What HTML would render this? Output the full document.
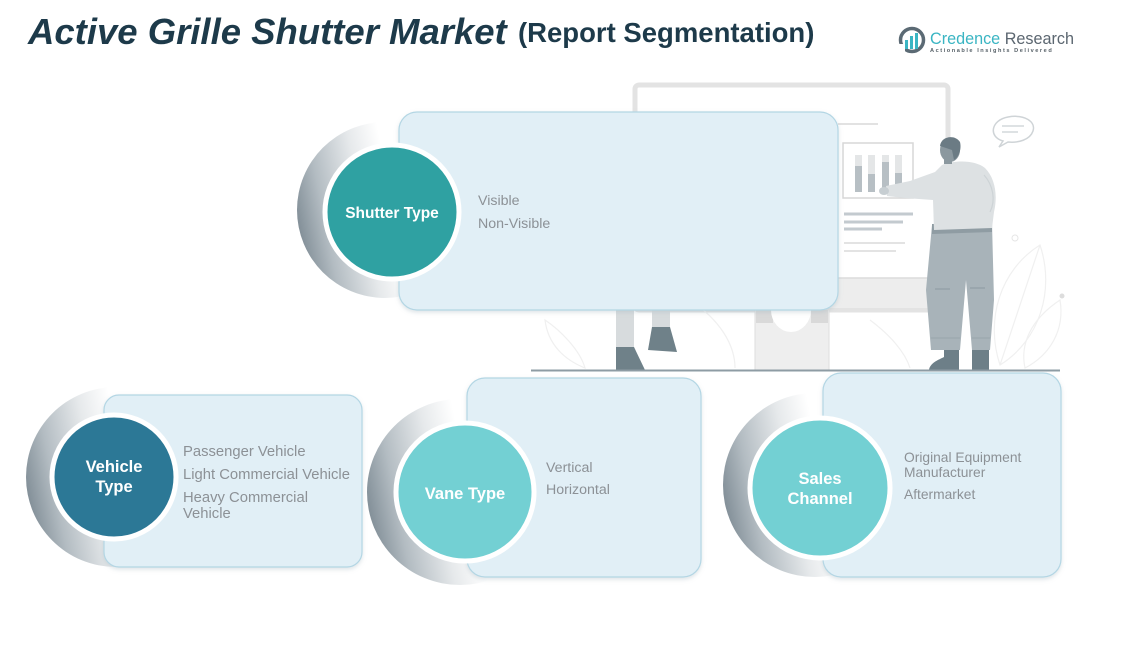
<!DOCTYPE html>
<html>
<head>
<meta charset="utf-8">
<style>
  html,body{margin:0;padding:0;background:#ffffff;}
  body{width:1137px;height:671px;overflow:hidden;}
  svg{display:block;}
  text{font-family:"Liberation Sans", Arial, sans-serif;}
</style>
</head>
<body>
<svg width="1137" height="671" viewBox="0 0 1137 671" xmlns="http://www.w3.org/2000/svg">
  <defs>
    <linearGradient id="cres" x1="0" y1="0.6" x2="1" y2="0.4">
      <stop offset="0" stop-color="#808d96"/>
      <stop offset="0.16" stop-color="#b3bcc2"/>
      <stop offset="0.38" stop-color="#e6e9eb"/>
      <stop offset="0.55" stop-color="#ffffff"/>
      <stop offset="1" stop-color="#ffffff"/>
    </linearGradient>
    <filter id="sh" x="-10%" y="-10%" width="120%" height="130%">
      <feDropShadow dx="0" dy="2" stdDeviation="2" flood-color="#9fb3bd" flood-opacity="0.35"/>
    </filter>
  </defs>

  <!-- Title -->
  <text x="28" y="44" font-size="36.5" font-weight="bold" font-style="italic" fill="#1d3a4a">Active Grille Shutter Market</text>
  <text x="518" y="42" font-size="27.5" font-weight="bold" fill="#1d3a4a">(Report Segmentation)</text>

  <!-- Logo -->
  <g>
    <circle cx="912" cy="40" r="11.5" fill="none" stroke="#5b6a74" stroke-width="3.5"/>
    <rect x="899" y="44" width="6" height="10" fill="#ffffff"/>
    <rect x="905" y="40" width="3" height="9" fill="#3ab5c3"/>
    <rect x="910" y="36" width="3" height="13" fill="#3ab5c3"/>
    <rect x="915" y="33" width="3" height="16" fill="#3ab5c3"/>
    <text x="930" y="44" font-size="16.2" fill="#3ab5c3">Credence <tspan fill="#5b6670">Research</tspan></text>
    <text x="930" y="52" font-size="5.6" fill="#555f66" letter-spacing="1.55" font-weight="bold">Actionable Insights Delivered</text>
  </g>

  <!-- Illustration -->
  <g>
    <!-- monitor -->
    <rect x="635" y="85" width="313" height="225" rx="4" fill="#ffffff" stroke="#e3e3e3" stroke-width="5"/>
    <rect x="637.5" y="278" width="308" height="30" fill="#ededed"/>
    <line x1="637" y1="278" x2="946" y2="278" stroke="#dcdcdc" stroke-width="1.5"/>
    <!-- stand -->
    <rect x="755" y="310" width="74" height="60" fill="#eeeeee"/>
    <rect x="756" y="310" width="17" height="13" fill="#d9d9d9"/>
    <rect x="811" y="310" width="17" height="13" fill="#d9d9d9"/>
    <path d="M771 310 A20 22 0 0 0 811 310 Z" fill="#ffffff"/>
    <line x1="755" y1="310" x2="755" y2="370" stroke="#dddddd" stroke-width="1"/>
    <line x1="829" y1="310" x2="829" y2="370" stroke="#dddddd" stroke-width="1"/>
    <!-- screen contents -->
    <line x1="838" y1="124" x2="878" y2="124" stroke="#e2e2e2" stroke-width="2"/>
    <rect x="843" y="143" width="70" height="55" fill="#ffffff" stroke="#d7d7d7" stroke-width="1.5"/>
    <rect x="855" y="155" width="7" height="37" fill="#e4e6e7"/>
    <rect x="855" y="166" width="7" height="26" fill="#b7bfc4"/>
    <rect x="868" y="155" width="7" height="37" fill="#e4e6e7"/>
    <rect x="868" y="174" width="7" height="18" fill="#b7bfc4"/>
    <rect x="882" y="155" width="7" height="37" fill="#e4e6e7"/>
    <rect x="882" y="162" width="7" height="30" fill="#b7bfc4"/>
    <rect x="895" y="155" width="7" height="37" fill="#e4e6e7"/>
    <rect x="895" y="173" width="7" height="19" fill="#b7bfc4"/>
    <line x1="844" y1="214" x2="913" y2="214" stroke="#c3cacf" stroke-width="3"/>
    <line x1="844" y1="222" x2="903" y2="222" stroke="#c3cacf" stroke-width="3"/>
    <line x1="844" y1="229" x2="882" y2="229" stroke="#c3cacf" stroke-width="3"/>
    <line x1="844" y1="243" x2="905" y2="243" stroke="#e3e3e3" stroke-width="2"/>
    <line x1="844" y1="251" x2="896" y2="251" stroke="#e3e3e3" stroke-width="2"/>

    <!-- faint leaves -->
    <g fill="none" stroke="#f0f0f0" stroke-width="1.2">
      <path d="M1040 245 C1000 270 985 320 1000 365 C1040 340 1055 290 1040 245 Z"/>
      <path d="M1040 245 L1000 365"/>
      <path d="M1060 300 C1030 320 1020 345 1025 368 C1050 355 1065 330 1060 300 Z"/>
      <path d="M545 320 C560 330 580 350 585 368 C565 360 548 345 545 320 Z"/>
      <path d="M690 300 C720 320 735 345 735 368"/>
      <path d="M870 320 C890 335 905 352 910 368"/>
    </g>
    <circle cx="1062" cy="296" r="2.5" fill="#dddddd"/>
    <circle cx="1015" cy="238" r="3" fill="none" stroke="#e6e6e6"/>

    <!-- speech bubble -->
    <path d="M1003 141 C988 137 991 120 1008 117 C1025 114 1036 122 1033 131 C1030 140 1018 143 1008 142 L999 147 Z" fill="#ffffff" stroke="#cfd4d7" stroke-width="1.5"/>
    <line x1="1002" y1="126" x2="1024" y2="126" stroke="#d3d8db" stroke-width="1.5"/>
    <line x1="1002" y1="132" x2="1018" y2="132" stroke="#d3d8db" stroke-width="1.5"/>

    <!-- standing person -->
    <path d="M932 225 L992 223 L994 300 L990 350 L972 350 L966 280 L960 350 L931 350 L926 290 Z" fill="#a8b3b9"/>
    <path d="M932 224 L992 222 L992 232 L932 234 Z" fill="#8f9ca3"/>
    <line x1="935" y1="289" x2="950" y2="289" stroke="#8d9aa1" stroke-width="1"/>
    <line x1="970" y1="288" x2="985" y2="288" stroke="#8d9aa1" stroke-width="1"/>
    <line x1="931" y1="338" x2="960" y2="338" stroke="#98a4aa" stroke-width="1"/>
    <line x1="972" y1="338" x2="990" y2="338" stroke="#98a4aa" stroke-width="1"/>
    <path d="M944 350 L959 350 L959 370 L929 370 C930 363 938 360 944 357 Z" fill="#6d7f88"/>
    <rect x="972" y="350" width="17" height="20" fill="#6d7f88"/>
    <path d="M942 165 C955 160 975 160 985 168 C995 178 998 195 994 212 L992 228 L934 230 L933 200 L905 198 L887 196 L886 186 L910 181 L935 172 Z" fill="#dde1e3"/>
    <path d="M984 175 C993 185 996 200 990 212" fill="none" stroke="#cdd3d6" stroke-width="1.2"/>
    <rect x="944" y="155" width="8" height="9" fill="#8b989f"/>
    <ellipse cx="950" cy="150" rx="10" ry="12" fill="#8b989f"/>
    <path d="M940 146 C941 136 955 134 960 142 C962 150 958 158 954 160 L952 150 Z" fill="#6b7b84"/>
    <ellipse cx="884" cy="191" rx="5" ry="4" fill="#c7ced2"/>

    <!-- left person legs -->
    <rect x="616" y="308" width="18" height="40" fill="#d7dbdd"/>
    <path d="M616 347 L634 347 L645 370 L616 370 Z" fill="#6f8189"/>
    <rect x="652" y="308" width="18" height="20" fill="#d7dbdd"/>
    <path d="M652 327 L670 327 L677 352 L648 350 Z" fill="#6f8189"/>

    <!-- floor -->
    <line x1="531" y1="370.5" x2="1060" y2="370.5" stroke="#8e9ca4" stroke-width="2"/>
  </g>

  <!-- Shutter Type -->
  <circle cx="385" cy="210" r="88" fill="url(#cres)"/>
  <rect x="399" y="112" width="439" height="198" rx="18" fill="#e1eff6" stroke="#b3d6e4" stroke-width="1.2" filter="url(#sh)"/>
  <circle cx="392" cy="212" r="67" fill="#2fa1a2" stroke="#ffffff" stroke-width="5"/>
  <text x="392" y="218" font-size="15.5" font-weight="bold" fill="#ffffff" text-anchor="middle">Shutter Type</text>
  <text x="478" y="205" font-size="14.2" fill="#8c9196">Visible</text>
  <text x="478" y="228" font-size="14.2" fill="#8c9196">Non-Visible</text>

  <!-- Vehicle Type -->
  <circle cx="116" cy="477" r="90" fill="url(#cres)"/>
  <rect x="104" y="395" width="258" height="172" rx="15" fill="#e1eff6" stroke="#b3d6e4" stroke-width="1.2" filter="url(#sh)"/>
  <circle cx="114" cy="477" r="62" fill="#2c7896" stroke="#ffffff" stroke-width="5"/>
  <text x="114" y="472" font-size="16.5" font-weight="bold" fill="#ffffff" text-anchor="middle">Vehicle</text>
  <text x="114" y="492" font-size="16.5" font-weight="bold" fill="#ffffff" text-anchor="middle">Type</text>
  <text x="183" y="456" font-size="14.8" fill="#8c9196">Passenger Vehicle</text>
  <text x="183" y="479" font-size="14.8" fill="#8c9196">Light Commercial Vehicle</text>
  <text x="183" y="502" font-size="14.8" fill="#8c9196">Heavy Commercial</text>
  <text x="183" y="518" font-size="14.8" fill="#8c9196">Vehicle</text>

  <!-- Vane Type -->
  <circle cx="460" cy="492" r="93" fill="url(#cres)"/>
  <rect x="467" y="378" width="234" height="199" rx="18" fill="#e1eff6" stroke="#b3d6e4" stroke-width="1.2" filter="url(#sh)"/>
  <circle cx="465" cy="492" r="69" fill="#73d0d3" stroke="#ffffff" stroke-width="5"/>
  <text x="465" y="499" font-size="16.5" font-weight="bold" fill="#ffffff" text-anchor="middle">Vane Type</text>
  <text x="546" y="472" font-size="14.2" fill="#8c9196">Vertical</text>
  <text x="546" y="494" font-size="14.2" fill="#8c9196">Horizontal</text>

  <!-- Sales Channel -->
  <circle cx="815" cy="485" r="92" fill="url(#cres)"/>
  <rect x="823" y="373" width="238" height="204" rx="18" fill="#e1eff6" stroke="#b3d6e4" stroke-width="1.2" filter="url(#sh)"/>
  <circle cx="820" cy="488" r="70" fill="#73d0d3" stroke="#ffffff" stroke-width="5"/>
  <text x="820" y="484" font-size="16.5" font-weight="bold" fill="#ffffff" text-anchor="middle">Sales</text>
  <text x="820" y="504" font-size="16.5" font-weight="bold" fill="#ffffff" text-anchor="middle">Channel</text>
  <text x="904" y="462" font-size="13.8" fill="#8c9196">Original Equipment</text>
  <text x="904" y="477" font-size="13.8" fill="#8c9196">Manufacturer</text>
  <text x="904" y="499" font-size="13.8" fill="#8c9196">Aftermarket</text>
</svg>
</body>
</html>
